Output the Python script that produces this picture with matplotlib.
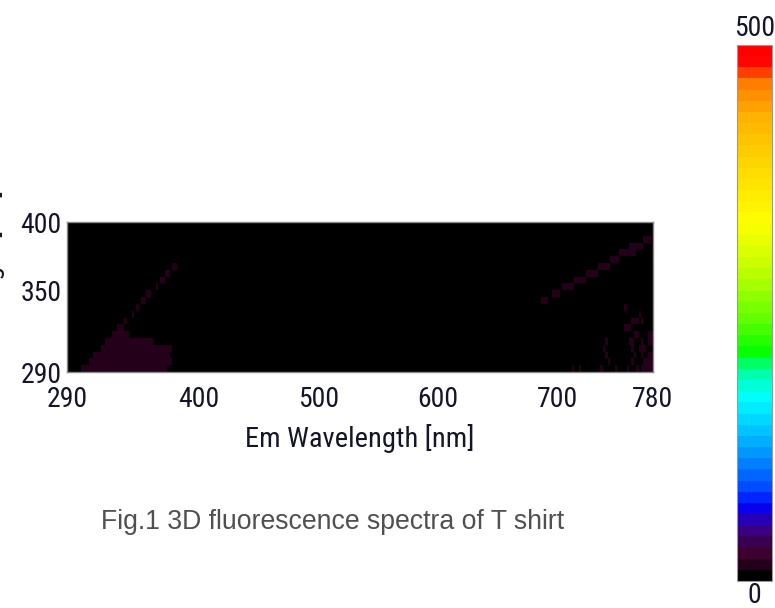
import numpy as np
import matplotlib
matplotlib.use("Agg")
import matplotlib.pyplot as plt
from matplotlib.colors import LinearSegmentedColormap, BoundaryNorm
from matplotlib import font_manager

# --- data ---
em_ticks = [290, 400, 500, 600, 700, 780]
ex_ticks = [290, 350, 400]
cbar_min, cbar_max = 0, 500
level = 15  # intensity of the faint cells

# (ex row start, em from, em to) - scattering blob near em = ex
blob = [
    (290, 302, 374), (295, 308, 378), (300, 311, 376), (305, 317, 378),
    (310, 321, 362), (315, 328, 342), (320, 331, 337),
]
# first order scattering line
line1 = [
    (325, 337, 340), (330, 343, 346), (335, 347, 350), (340, 352, 356),
    (345, 356, 359), (350, 363, 366), (355, 367, 371), (360, 372, 375),
    (365, 377, 381),
]
# second order scattering line
line2 = [
    (340, 686, 692), (345, 696, 702), (350, 704, 714), (355, 714, 724),
    (360, 724, 734), (365, 734, 744), (370, 744, 752), (375, 752, 766),
    (380, 760, 772), (385, 772, 778),
]
# speckle noise at the long wavelength edge
speckle = [
    (335, 756, 758), (330, 768, 770), (325, 762, 768), (325, 770, 772),
    (320, 756, 762), (315, 764, 768), (315, 776, 780), (310, 740, 742),
    (310, 760, 764), (310, 770, 772), (310, 776, 780), (305, 738, 740),
    (305, 762, 764), (305, 768, 774), (300, 740, 742), (300, 764, 766),
    (300, 770, 772), (300, 776, 780), (295, 742, 744), (295, 762, 764),
    (295, 772, 780), (290, 712, 714), (290, 718, 720), (290, 736, 738),
    (290, 748, 750), (290, 758, 760), (290, 766, 768), (290, 770, 780),
]

em_edges = np.arange(290, 782, 2)
ex_edges = np.arange(290, 405, 5)
Z = np.zeros((len(ex_edges) - 1, len(em_edges) - 1))
for ex0, e1, e2 in blob + line1 + line2 + speckle:
    r = (ex0 - 290) // 5
    cols = (em_edges[:-1] >= e1) & (em_edges[:-1] < e2)
    Z[r, cols] = level

# --- colormap, stepped like the instrument software ---
anchors = [
    (0.0, "#000000"), (0.022, "#26001c"), (0.045, "#400030"),
    (0.07, "#34005a"), (0.09, "#3a0090"), (0.11, "#2000c0"),
    (0.134, "#0000ff"), (0.16, "#0040ff"), (0.226, "#0090ff"),
    (0.28, "#00c8ff"), (0.338, "#00ffff"), (0.375, "#00ffc0"),
    (0.40, "#00ff80"), (0.42, "#00ff00"), (0.487, "#60ff00"),
    (0.58, "#c0ff00"), (0.673, "#ffff00"), (0.80, "#ffd000"),
    (0.877, "#ffb000"), (0.935, "#ff8000"), (0.957, "#ff4000"),
    (0.98, "#ff0000"), (1.0, "#ff0000"),
]
nb = 48
cmap = LinearSegmentedColormap.from_list("fl", anchors, N=nb)
norm = BoundaryNorm(np.linspace(cbar_min, cbar_max, nb + 1), nb)

installed = {f.name for f in font_manager.fontManager.ttflist}
narrow = [f for f in ["Liberation Sans Narrow", "DejaVu Sans Condensed",
                      "Roboto Condensed", "Liberation Sans"] if f in installed]
narrow.append("DejaVu Sans")
stretch = "condensed"
ink = "#14142a"

fig = plt.figure(figsize=(7.75, 6.08), dpi=100)
ax = fig.add_axes([0.0865, 0.388, 0.756, 0.2467])
ax.pcolormesh(em_edges, ex_edges, Z, cmap=cmap, norm=norm)
ax.set_xlim(290, 780)
ax.set_ylim(290, 400)
ax.set_xticks(em_ticks)
ax.set_yticks(ex_ticks)
ax.tick_params(axis="x", length=0, pad=10)
ax.tick_params(axis="y", length=0, pad=4)
for lab in ax.get_xticklabels() + ax.get_yticklabels():
    lab.set_family(narrow)
    lab.set_stretch(stretch)
    lab.set_fontsize(20)
    lab.set_color(ink)
for s in ax.spines.values():
    s.set_color("#8a8a8a")
    s.set_linewidth(1)
ax.set_xlabel("Em Wavelength [nm]", family=narrow, stretch=stretch,
              fontsize=20.5, color=ink, labelpad=8)

# y label, cut off by the left edge of the crop (only descenders peek in)
fig.text(5 / 775, 1 - 297 / 608, "Ex Wavelength [nm]", rotation=90,
         ha="right", va="center", family=narrow, stretch=stretch,
         fontsize=20, color=ink)

cax = fig.add_axes([0.951, 0.0444, 0.045, 0.8816])
cb = fig.colorbar(plt.cm.ScalarMappable(norm=norm, cmap=cmap), cax=cax)
cb.set_ticks([])
cb.minorticks_off()
cax.tick_params(which="both", length=0)
cb.outline.set_edgecolor("#9a9a9a")
cb.outline.set_linewidth(0.8)
cax.text(0.5, 1.006, str(cbar_max), transform=cax.transAxes, ha="center",
         va="bottom", family=narrow, stretch=stretch, fontsize=20, color=ink)
cax.text(0.5, -0.002, str(cbar_min), transform=cax.transAxes, ha="center",
         va="top", family=narrow, stretch=stretch, fontsize=20, color=ink)

fig.text(333 / 775, 1 - 522 / 608, "Fig.1 3D fluorescence spectra of T shirt",
         ha="center", va="center", family=["Liberation Sans", "DejaVu Sans"],
         fontsize=19.2, color="#505050")

fig.savefig("out.png", dpi=100)
